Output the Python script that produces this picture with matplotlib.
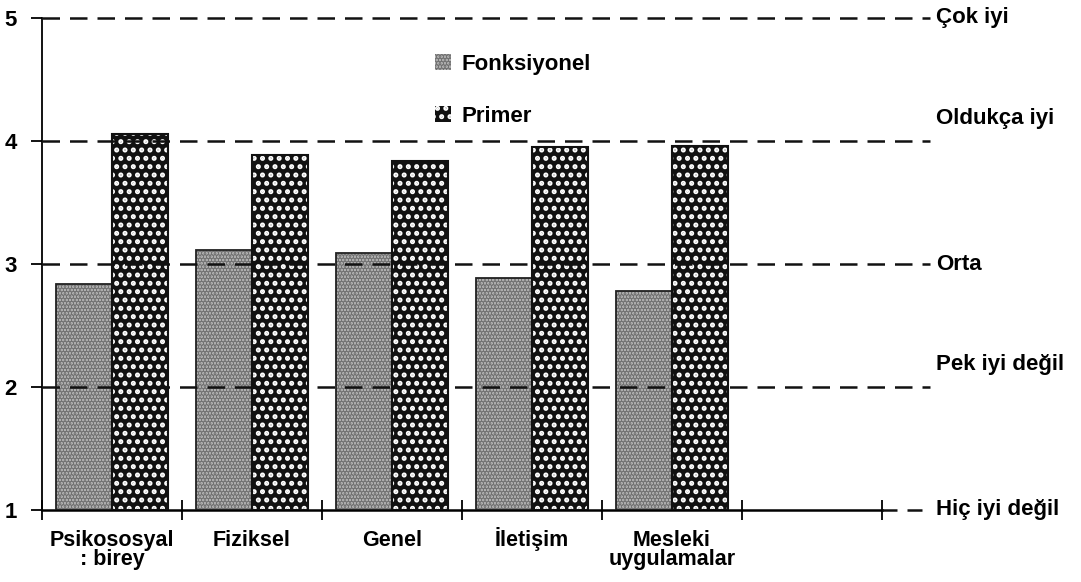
import numpy as np
import matplotlib.pyplot as plt
from matplotlib.patches import Patch

categories = ['Psikososyal\n: birey', 'Fiziksel', 'Genel', 'İletişim', 'Mesleki\nuygulamalar']
fonksiyonel = [2.84, 3.11, 3.09, 2.89, 2.78]
primer = [4.06, 3.89, 3.84, 3.95, 3.96]
levels = [1, 2, 3, 4, 5]
level_names = ['Hiç iyi değil', 'Pek iyi değil', 'Orta', 'Oldukça iyi', 'Çok iyi']

plt.rcParams['font.family'] = ['Liberation Sans', 'DejaVu Sans']
plt.rcParams['hatch.linewidth'] = 2.4

fig = plt.figure(figsize=(10.81, 5.82), dpi=100)
ax = fig.add_axes([42/1081, 1-510/582, (882-42)/1081, (510-18)/582])

x = np.arange(len(categories)) + 0.5
w = 0.4

# gray stippled bars
ax.bar(x - w/2, np.array(fonksiyonel) - 1, w, bottom=1, color='#b8b8b8',
       edgecolor='#737373', hatch='.....', linewidth=0, zorder=2)
ax.bar(x - w/2, np.array(fonksiyonel) - 1, w, bottom=1, fill=False,
       edgecolor='#222222', linewidth=1.3, zorder=3)
# black bars with white dots
ax.bar(x + w/2, np.array(primer) - 1, w, bottom=1, color='#111111',
       edgecolor='white', hatch='..', linewidth=0, zorder=2)
ax.bar(x + w/2, np.array(primer) - 1, w, bottom=1, fill=False,
       edgecolor='#111111', linewidth=1.5, zorder=3)

xmax = 6
xend = 6.343
for lv, name in zip(levels, level_names):
    if lv == 1:
        ax.plot([xmax, xend], [lv, lv], color='#111111', lw=1.8,
                dashes=(6, 4), clip_on=False, zorder=4)
    else:
        ax.plot([0, xend], [lv, lv], color='#111111', lw=1.8,
                dashes=(7, 4), clip_on=False, zorder=4)
    dy = 0.18 if lv in (2, 4) else 0
    ax.text(6.386, lv + dy, name, fontsize=16, fontweight='bold',
            va='center', ha='left', clip_on=False)

ax.set_xlim(0, xmax)
ax.set_ylim(1, 5)
ax.set_xticks(np.arange(0, 7))
ax.set_xticklabels([])
ax.tick_params(axis='x', which='major', direction='inout', length=14, width=1.3)
# category names, one text per line so that all first lines share a baseline
for xi, lab in zip(x, categories):
    for k, line in enumerate(lab.split('\n')):
        ax.text(xi, -0.073 - k * 19/492, line, transform=ax.get_xaxis_transform(),
                ha='center', va='baseline', fontsize=15.5, fontweight='bold')
ax.set_yticks(levels)
ax.set_yticklabels([str(v) for v in levels], fontsize=16, fontweight='bold')
ax.tick_params(axis='y', direction='out', length=8, width=1.3, pad=10)

for s in ['top', 'right']:
    ax.spines[s].set_visible(False)
ax.spines['left'].set_linewidth(1.3)
ax.spines['bottom'].set_linewidth(1.8)

handles = [Patch(facecolor='#b8b8b8', edgecolor='#737373', hatch='.....', linewidth=0),
           Patch(facecolor='#111111', edgecolor='white', hatch='..', linewidth=0)]
ax.legend(handles, ['Fonksiyonel', 'Primer'], loc='upper left',
          bbox_to_anchor=((415-42)/840, 0.968), frameon=False,
          prop={'size': 16, 'weight': 'bold'}, handlelength=0.7,
          handleheight=0.7, handletextpad=0.5, labelspacing=1.4)

fig.savefig('out.png', dpi=100)
